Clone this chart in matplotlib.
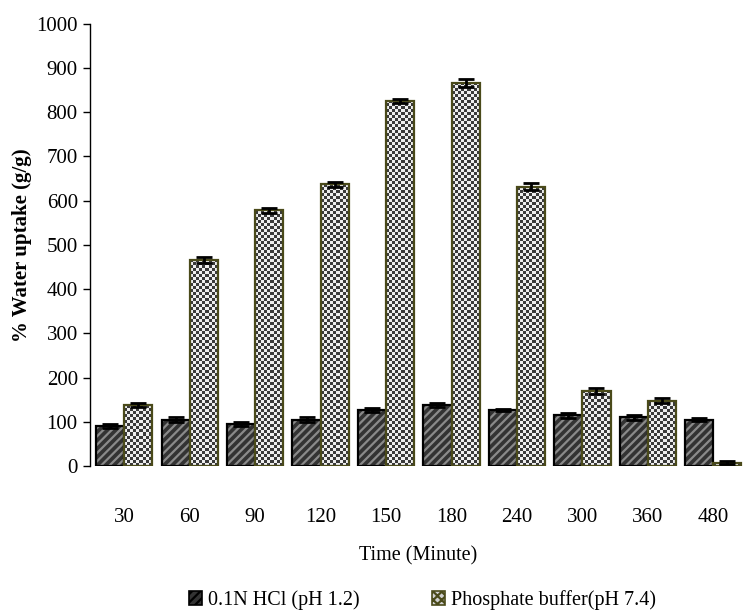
import matplotlib
matplotlib.use("Agg")
import matplotlib.pyplot as plt
import matplotlib.patches as mpatches
import numpy as np

times = ["30", "60", "90", "120", "150", "180", "240", "300", "360", "480"]
hcl = [90, 105, 95, 105, 127, 138, 127, 115, 110, 105]
hcl_err = [5, 5, 4, 5, 5, 5, 3, 6, 5, 4]
phos = [138, 465, 578, 637, 825, 866, 632, 170, 148, 8]
phos_err = [5, 7, 5, 5, 4, 10, 7, 6, 6, 4]
labels = ["0.1N HCl (pH 1.2)", "Phosphate buffer(pH 7.4)"]

plt.rcParams['font.family'] = ['Liberation Serif', 'DejaVu Serif']
plt.rcParams['hatch.linewidth'] = 1.6

fig = plt.figure(figsize=(7.46, 6.10), dpi=100)
ax = fig.add_axes([0.121, 0.236, 0.879, 0.725])

x = np.arange(len(times))
w = 0.43
ax.set_xlim(-0.52, 9.5)
ax.set_ylim(0, 1000)

# HCl: dark fill with light diagonal stripes
plt.rcParams['hatch.color'] = '#8a8a8a'
b1 = ax.bar(x - w/2, hcl, w, color='#333333', hatch='////', edgecolor='#8a8a8a', linewidth=0)
ax.bar(x - w/2, hcl, w, fill=False, edgecolor='black', linewidth=1.6)

# Phosphate: checkerboard texture clipped to bars
b2 = ax.bar(x + w/2, phos, w, color='none', edgecolor='#4a4a1a', linewidth=1.6, zorder=3)
cell_px = 3.0
ax_w_px = 0.879 * 746
ax_h_px = 0.725 * 610
ux = (9.5 + 0.52) / ax_w_px * cell_px
uy = 1000.0 / ax_h_px * cell_px
for rect in b2:
    x0 = rect.get_x(); y0 = rect.get_y()
    bw = rect.get_width(); bh = rect.get_height()
    nx = int(np.ceil(bw / ux)) + 1
    ny = int(np.ceil(bh / uy)) + 1
    ii, jj = np.meshgrid(np.arange(nx), np.arange(ny))
    chk = ((ii + jj) % 2).astype(float)
    im = ax.imshow(chk, cmap=matplotlib.colors.ListedColormap(['#3a3a3a', '#eeeeee']),
                   extent=[x0, x0 + nx * ux, y0, y0 + ny * uy], origin='lower',
                   interpolation='nearest', aspect='auto', zorder=2)
    clip = mpatches.Rectangle((x0, y0), bw, bh, transform=ax.transData)
    im.set_clip_path(clip)
ax.set_xlim(-0.52, 9.5)
ax.set_ylim(0, 1000)

ax.errorbar(x - w/2, hcl, yerr=hcl_err, fmt='none', ecolor='black', capsize=6, elinewidth=2, capthick=2, zorder=4)
ax.errorbar(x + w/2, phos, yerr=phos_err, fmt='none', ecolor='black', capsize=6, elinewidth=2, capthick=2, zorder=4)

ax.set_yticks(np.arange(0, 1001, 100))
ax.set_xticks(x)
ax.set_xticklabels(times)
ax.tick_params(axis='y', labelsize=15, length=5, width=1, direction='out', pad=4)
ax.tick_params(axis='x', labelsize=15, length=0, pad=30)
for s in ['top', 'right', 'bottom']:
    ax.spines[s].set_visible(False)
ax.spines['left'].set_linewidth(1)

ax.set_ylabel("% Water uptake (g/g)", fontsize=15, fontweight='bold', labelpad=3)
ax.set_xlabel("Time (Minute)", fontsize=14.5, labelpad=14)

h1 = mpatches.Patch(facecolor='#333333', hatch='////', edgecolor='black', linewidth=1.2)
h2 = mpatches.Patch(facecolor='#d0d0d0', hatch='xxxx', edgecolor='#4a4a1a', linewidth=1.2)
plt.rcParams['hatch.color'] = '#555555'
leg = fig.legend([h1, h2], labels, loc='lower center', bbox_to_anchor=(0.566, -0.03), ncol=2,
                 frameon=False, fontsize=14.5, handlelength=0.65, handleheight=0.65,
                 columnspacing=3.6, handletextpad=0.3)

fig.savefig("out.png", dpi=100)
